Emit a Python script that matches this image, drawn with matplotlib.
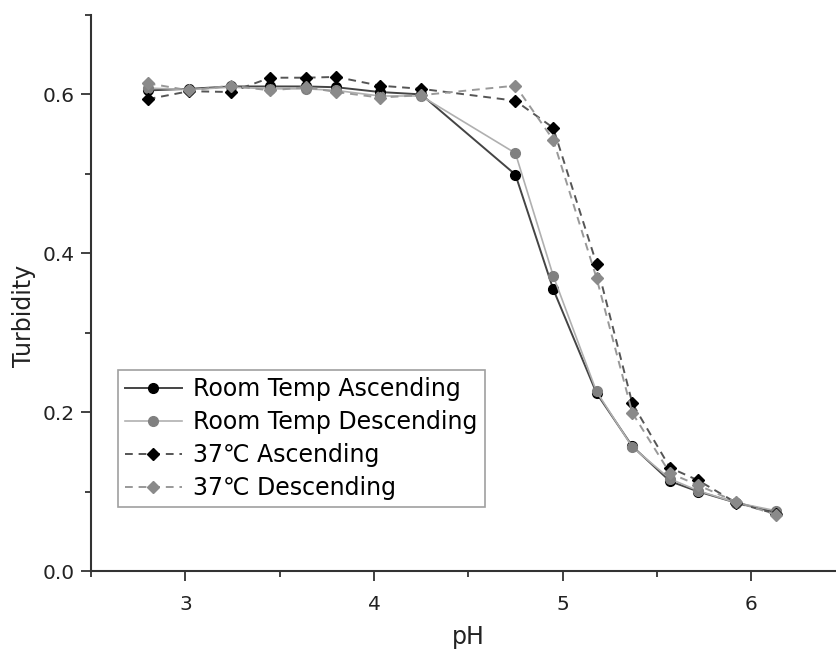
import matplotlib
matplotlib.use('Agg')
import matplotlib.pyplot as plt
from matplotlib.ticker import MultipleLocator

plt.rcParams['font.family'] = ['DejaVu Sans']

ph = [2.80, 3.02, 3.24, 3.45, 3.64, 3.80, 4.03, 4.25,
      4.75, 4.95, 5.18, 5.37, 5.57, 5.72, 5.92, 6.13]

rt_asc = [0.605, 0.607, 0.610, 0.610, 0.610, 0.609, 0.603, 0.600,
          0.499, 0.355, 0.224, 0.157, 0.113, 0.100, 0.086, 0.074]
rt_desc = [0.608, 0.606, 0.609, 0.607, 0.607, 0.605, 0.598, 0.598,
           0.526, 0.372, 0.226, 0.156, 0.116, 0.101, 0.086, 0.076]
t37_asc = [0.594, 0.604, 0.603, 0.621, 0.621, 0.622, 0.611, 0.607,
           0.592, 0.558, 0.387, 0.211, 0.130, 0.114, 0.086, 0.072]
t37_desc = [0.614, 0.605, 0.611, 0.605, 0.609, 0.603, 0.596, 0.599,
            0.611, 0.543, 0.369, 0.199, 0.123, 0.108, 0.087, 0.071]

labels = ['Room Temp Ascending', 'Room Temp Descending',
          '37\u2103 Ascending', '37\u2103 Descending']

fig = plt.figure(figsize=(8.36, 6.5), dpi=100)
ax = fig.add_axes([0.109, 0.1215, 0.891, 0.8555])

ax.plot(ph, rt_asc, '-o', color='#444444', mfc='black', mec='black',
        markersize=7, linewidth=1.4, label=labels[0])
ax.plot(ph, rt_desc, '-o', color='#b0b0b0', mfc='#808080', mec='#808080',
        markersize=7, linewidth=1.2, label=labels[1])
ax.plot(ph, t37_asc, '--D', color='#555555', mfc='black', mec='black',
        markersize=6, linewidth=1.4, dashes=(4, 3), label=labels[2])
ax.plot(ph, t37_desc, '--D', color='#999999', mfc='#8a8a8a', mec='#8a8a8a',
        markersize=6, linewidth=1.4, dashes=(4, 3), label=labels[3])

ax.set_xlim(2.5, 6.45)
ax.set_ylim(0, 0.7)
ax.xaxis.set_major_locator(MultipleLocator(1))
ax.xaxis.set_minor_locator(MultipleLocator(0.5))
ax.set_yticks([0.0, 0.2, 0.4, 0.6])
ax.yaxis.set_minor_locator(MultipleLocator(0.1))

for side in ('top', 'right'):
    ax.spines[side].set_visible(False)
for side in ('left', 'bottom'):
    ax.spines[side].set_linewidth(1.5)
    ax.spines[side].set_color('#333333')

ax.tick_params(which='major', direction='out', length=7, width=1.3,
               colors='#333333', labelsize=14.5, labelcolor='#222222')
ax.tick_params(axis='x', which='major', pad=10)
ax.tick_params(axis='y', which='major', pad=5)
ax.tick_params(which='minor', direction='out', length=4, width=1.3,
               colors='#333333')

ax.set_xlabel('pH', fontsize=17, color='#222222')
ax.set_ylabel('Turbidity', fontsize=17, color='#222222')
ax.xaxis.set_label_coords(0.506, -0.097)
ax.yaxis.set_label_coords(-0.074, 0.459)

leg = ax.legend(loc='lower left', bbox_to_anchor=(0.036, 0.115),
                fontsize=17, frameon=True, fancybox=False,
                edgecolor='#888888', handlelength=2.4, handletextpad=0.5,
                labelspacing=0.38, borderpad=0.3, borderaxespad=0.0)
leg.get_frame().set_linewidth(1.2)

fig.savefig('out.png', dpi=100)
